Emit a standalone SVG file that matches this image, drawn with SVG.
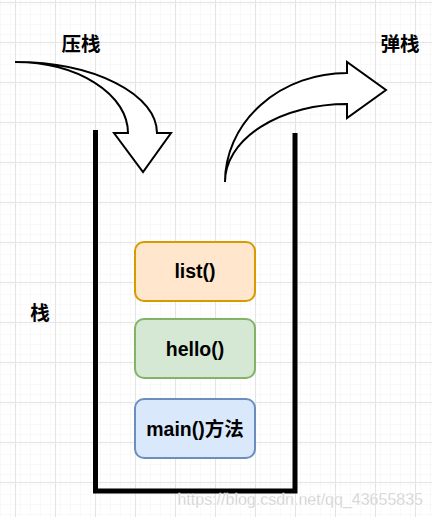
<svg xmlns="http://www.w3.org/2000/svg" width="432" height="517" viewBox="0 0 432 517">
<defs>
<pattern id="minor" x="15" y="2" width="10" height="10" patternUnits="userSpaceOnUse">
<path d="M0,0 H10 M0,0 V10" fill="none" stroke="#f3f3f3" stroke-width="1"/>
</pattern>
<pattern id="major" x="15" y="2" width="40" height="40" patternUnits="userSpaceOnUse">
<rect width="40" height="40" fill="url(#minor)"/>
<path d="M0,0.5 H40 M0.5,0 V40" fill="none" stroke="#e4e4e4" stroke-width="1"/>
</pattern>
<style>
.lbl{font-family:"Liberation Sans","Noto Sans CJK SC",sans-serif;font-weight:bold;font-size:19.5px;fill:#000;text-anchor:middle}
.box{stroke-width:2}
.arrow{fill:#fff;stroke:#000;stroke-width:2;stroke-linejoin:miter}
</style>
</defs>
<rect width="432" height="517" fill="#fff"/>
<rect width="432" height="517" fill="url(#major)"/>
<g id="stack">
<path d="M95.5,130 V491 H295 V133" fill="none" stroke="#000" stroke-width="5"/>
</g>
<g id="connectors">
<path id="push-arrow" class="arrow" d="M15,62 A113,71 0 0 1 128,133 L114,133 L143,172 L171,133 L157,133 A142,71 0 0 0 15,62 Z"/>
<path id="pop-arrow" class="arrow" d="M225,182 A122,109 0 0 1 347,73 L347,62 L386,90 L347,118 L347,104 A122,78 0 0 0 225,182 Z"/>
</g>
<g id="node-list">
<rect class="box" x="135" y="242" width="120" height="59" rx="9" fill="#ffe6cc" stroke="#d79b00"/>
<text class="lbl" x="195" y="278">list()</text>
</g>
<g id="node-hello">
<rect class="box" x="135" y="319" width="120" height="59" rx="9" fill="#d5e8d4" stroke="#82b366"/>
<text class="lbl" x="195" y="356">hello()</text>
</g>
<g id="node-main">
<rect class="box" x="135" y="399" width="120" height="59" rx="9" fill="#dae8fc" stroke="#6c8ebf"/>
<text class="lbl" x="195" y="436">main()方法</text>
</g>
<g id="label-push"><text class="lbl" x="81" y="51">压栈</text></g>
<g id="label-pop"><text class="lbl" x="400" y="51">弹栈</text></g>
<g id="label-stack"><text class="lbl" x="40" y="320">栈</text></g>
<text x="423" y="505" text-anchor="end" font-family="Liberation Sans, sans-serif" font-size="16" fill="#cacaca" stroke="#fff" stroke-width="0.3">https://blog.csdn.net/qq_43655835</text>
</svg>
